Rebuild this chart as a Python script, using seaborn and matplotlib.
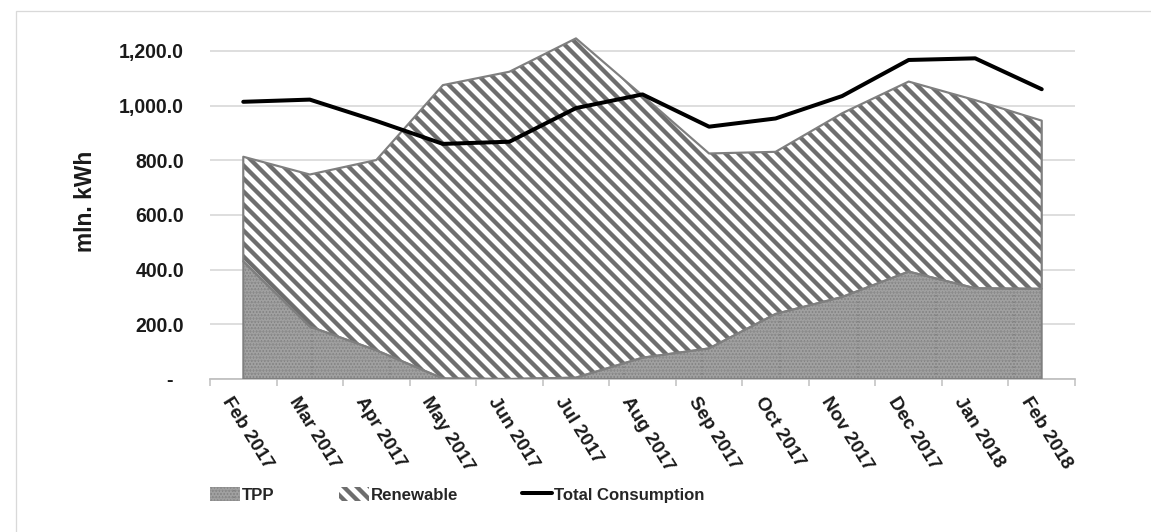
import matplotlib
matplotlib.use("Agg")
import matplotlib.pyplot as plt
import matplotlib.transforms as mtrans
import numpy as np
import pandas as pd
import seaborn as sns
from matplotlib.lines import Line2D
from matplotlib.patches import Patch, Rectangle

# Monthly electricity balance, mln. kWh
months = ["Feb 2017", "Mar 2017", "Apr 2017", "May 2017", "Jun 2017", "Jul 2017",
          "Aug 2017", "Sep 2017", "Oct 2017", "Nov 2017", "Dec 2017", "Jan 2018",
          "Feb 2018"]
tpp = [430, 192, 105, 2, 0, 5, 78, 112, 238, 300, 393, 332, 330]
renewable = [383, 556, 696, 1073, 1124, 1241, 959, 713, 593, 672, 695, 688, 615]
total_consumption = [1014, 1022, 944, 860, 868, 991, 1041, 923, 953, 1035, 1167,
                     1173, 1060]
y_ticks = [0, 200, 400, 600, 800, 1000, 1200]

sns.set_theme(style="white")
plt.rcParams["font.family"] = ["Liberation Sans", "DejaVu Sans"]
plt.rcParams["hatch.linewidth"] = 4.0

W, H, DPI = 1151, 532, 78
fig = plt.figure(figsize=(W / DPI, H / DPI), dpi=DPI)
fig.patch.set_facecolor("white")

# light frame around the chart area
fig.add_artist(Rectangle((16 / W, -0.5), 2.0, 1 - 11 / H + 0.5,
                         transform=fig.transFigure, fill=False,
                         edgecolor="#d9d9d9", linewidth=1.2))

ax = fig.add_axes([210 / W, 1 - 379 / H, 865 / W, 345 / H])

df = pd.DataFrame({"month": months, "idx": np.arange(len(months)),
                   "tpp": tpp, "renewable": renewable,
                   "total": total_consumption})
df["stack_top"] = df["tpp"] + df["renewable"]

x = df["idx"].to_numpy()
edge_grey = "#7f7f7f"
tpp_face, tpp_dots = "#828282", "#a0a0a0"
stripe_grey = "#6e6e6e"
stripe_hatch = "\\\\"

# TPP area (dotted grey)
ax.fill_between(x, 0, df["tpp"], facecolor=tpp_face, edgecolor=tpp_dots,
                hatch="....", linewidth=0, zorder=2)
# Renewable area stacked above (diagonal stripes)
ax.fill_between(x, df["tpp"], df["stack_top"], facecolor="white",
                edgecolor=stripe_grey, hatch=stripe_hatch, linewidth=0, zorder=2)
# outlines of both areas
ax.fill_between(x, 0, df["tpp"], facecolor="none", edgecolor=edge_grey,
                linewidth=1.8, zorder=3)
ax.fill_between(x, df["tpp"], df["stack_top"], facecolor="none",
                edgecolor=edge_grey, linewidth=2.0, zorder=3)

# total consumption line
sns.lineplot(data=df, x="idx", y="total", color="black", linewidth=3.7,
             ax=ax, zorder=5, legend=False)

ax.set_xlim(-0.5, len(months) - 0.5)
ax.set_ylim(0, 1262)
ax.set_xlabel("")
ax.set_ylabel("")

# y axis: gridlines and accounting-style labels
ax.set_yticks(y_ticks)
ax.set_yticklabels(["-  " if v == 0 else f"{v:,.1f}" for v in y_ticks],
                   fontsize=18, fontweight="bold", color="#1a1a1a")
ax.tick_params(axis="y", length=0, pad=24)
ax.yaxis.grid(True, color="#d9d9d9", linewidth=1.6)
ax.set_axisbelow(True)

for side in ("left", "top", "right"):
    ax.spines[side].set_visible(False)
ax.spines["bottom"].set_color("#bfbfbf")
ax.spines["bottom"].set_linewidth(1.6)

# x axis: category labels at centres, tick marks on boundaries
ax.set_xticks(x)
ax.set_xticks(np.arange(-0.5, len(months), 1.0), minor=True)
ax.tick_params(axis="x", which="major", length=0, pad=14)
ax.tick_params(axis="x", which="minor", length=6, width=1.4, color="#bfbfbf",
               direction="out", bottom=True)
ax.set_xticklabels(months, rotation=-58, ha="left", va="top",
                   rotation_mode="anchor", fontsize=17.5, fontweight="bold",
                   color="#1a1a1a")
shift = mtrans.ScaledTranslation(-10 / DPI, 0, fig.dpi_scale_trans)
for lab in ax.get_xticklabels():
    lab.set_transform(lab.get_transform() + shift)

fig.text(85 / W, 1 - 201 / H, "mln. kWh", rotation=90, ha="center",
         va="center", fontsize=21, fontweight="bold", color="#1a1a1a")

# legend below the axis labels
legend_fs = 15.5
em = legend_fs * DPI / 72
handles = [
    Patch(facecolor=tpp_face, edgecolor=tpp_dots, hatch="....", linewidth=0),
    Patch(facecolor="white", edgecolor=stripe_grey, hatch=stripe_hatch,
          linewidth=0),
    Line2D([0], [0], color="black", linewidth=3.7),
]
fig.legend(handles, ["TPP", "Renewable", "Total Consumption"],
           loc="center left", bbox_to_anchor=(210 / W, 1 - 495 / H),
           ncol=3, frameon=False, borderpad=0, borderaxespad=0,
           handlelength=30 / em, handleheight=15 / em,
           handletextpad=2 / em, columnspacing=64 / em,
           prop={"weight": "bold", "size": legend_fs})

fig.savefig("out.png", dpi=DPI, facecolor="white")
